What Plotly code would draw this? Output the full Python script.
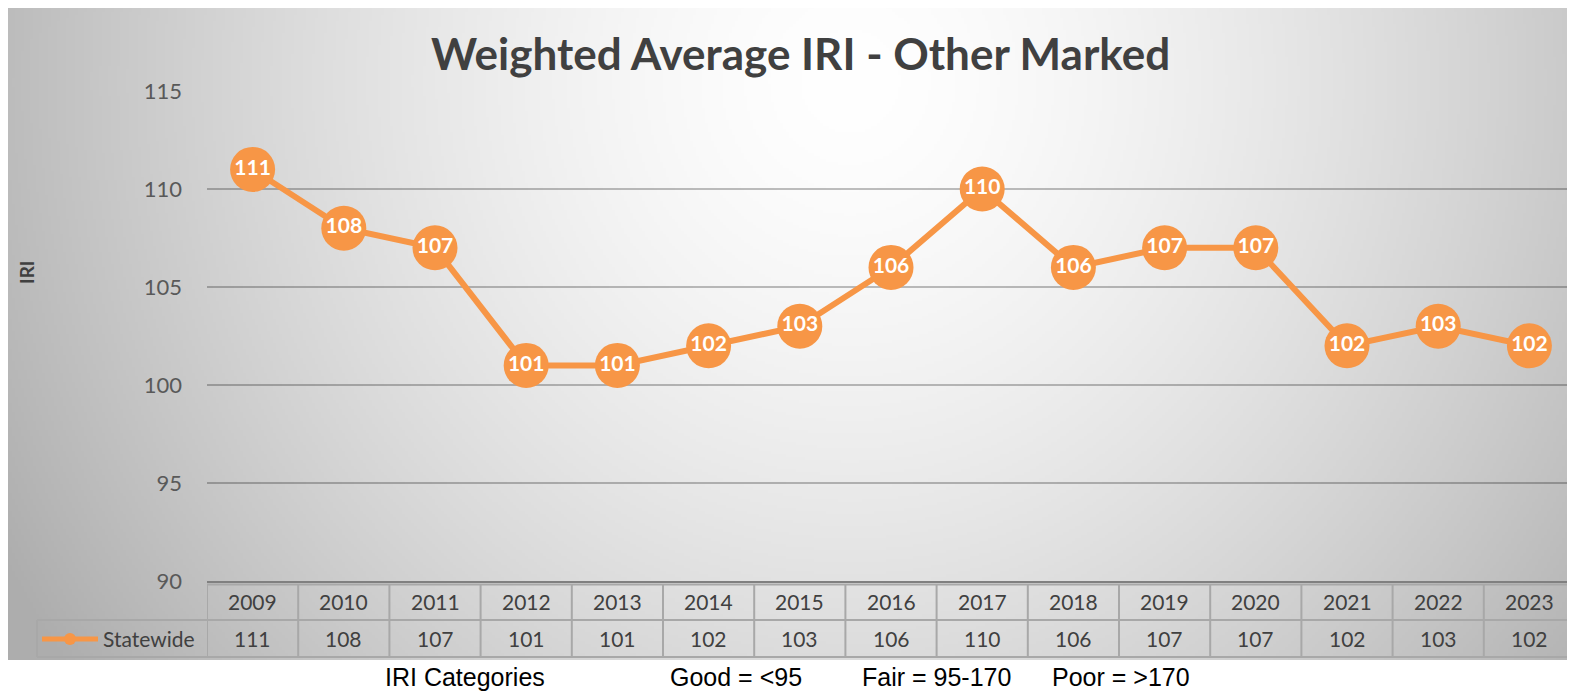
import base64, struct, zlib
import numpy as np
import plotly.graph_objects as go

# ---- data ----
years = ["2009", "2010", "2011", "2012", "2013", "2014", "2015", "2016",
         "2017", "2018", "2019", "2020", "2021", "2022", "2023"]
statewide = [111, 108, 107, 101, 101, 102, 103, 106, 110, 106, 107, 107, 102, 103, 102]
series_name = "Statewide"
title_text = "Weighted Average IRI - Other Marked"
y_title = "IRI"
y_ticks = [90, 95, 100, 105, 110, 115]
footer_items = ["IRI Categories", "Good = <95", "Fair = 95-170", "Poor = >170"]

OFF = 8  # page body margin
W, H = 1575 - OFF, 697 - OFF
# plot area in page pixels
L, R, T, B = 207, 1575, 91, 581
ORANGE = "#F79646"


def px(x):
    return (x - L) / (R - L)


def py(y):
    return (B - y) / (B - T)


# ---- background gradient image ----
def make_png(arr):
    h, w = arr.shape
    raw = b"".join(b"\x00" + arr[i].tobytes() for i in range(h))

    def chunk(t, d):
        return struct.pack(">I", len(d)) + t + d + struct.pack(">I", zlib.crc32(t + d) & 0xffffffff)

    return (b"\x89PNG\r\n\x1a\n"
            + chunk(b"IHDR", struct.pack(">IIBBBBB", w, h, 8, 0, 0, 0, 0))
            + chunk(b"IDAT", zlib.compress(raw, 9))
            + chunk(b"IEND", b""))


bx0, by0, bx1, by1 = 4, 4, 1575, 660
gw, gh = (bx1 - bx0) // 3, (by1 - by0) // 3
gx = np.linspace(bx0, bx1, gw)
gy = np.linspace(by0, by1, gh)
XX, YY = np.meshgrid(gx, gy)
d = np.sqrt(((XX - 850) / 840) ** 2 + ((YY - 80) / 880) ** 2)
d = np.clip(d, 0, 1.15)
val = 255 - 66 * d ** 1.5
img = np.clip(val, 0, 255).astype(np.uint8)
uri = "data:image/png;base64," + base64.b64encode(make_png(img)).decode()

fig = go.Figure()
fig.add_trace(go.Scatter(
    x=years, y=statewide, mode="lines+markers+text", name=series_name,
    line=dict(color=ORANGE, width=6),
    marker=dict(color=ORANGE, size=45, line=dict(width=0)),
    text=[str(v) for v in statewide], textposition="middle center",
    textfont=dict(family="Lato", size=21, color="white", weight="bold"),
    cliponaxis=False, showlegend=False,
))

shapes = []
ann = []
grid = "#a8a8a8"
# table horizontal lines
shapes.append(dict(type="line", xref="paper", yref="paper", x0=0, x1=1, y0=py(584.5), y1=py(584.5),
                   line=dict(color=grid, width=2)))
for yy in (620, 657):
    shapes.append(dict(type="line", xref="paper", yref="paper", x0=px(37), x1=1, y0=py(yy), y1=py(yy),
                       line=dict(color=grid, width=2)))
# vertical lines at category boundaries
for i in range(len(years) + 1):
    shapes.append(dict(type="line", xref="x", yref="paper", x0=i - 0.5, x1=i - 0.5,
                       y0=py(584.5), y1=py(657), line=dict(color=grid, width=2)))
shapes.append(dict(type="line", xref="paper", yref="paper", x0=px(37), x1=px(37),
                   y0=py(620), y1=py(657), line=dict(color=grid, width=2)))
# legend glyph
shapes.append(dict(type="line", xref="paper", yref="paper", x0=px(42), x1=px(98),
                   y0=py(639), y1=py(639), line=dict(color=ORANGE, width=5)))
shapes.append(dict(type="circle", xref="paper", yref="paper", x0=px(64), x1=px(76),
                   y0=py(645), y1=py(633), fillcolor=ORANGE, line=dict(width=0)))

tfont = dict(family="Lato", size=21, color="#404040")
for i, (yr, v) in enumerate(zip(years, statewide)):
    ann.append(dict(x=i, xref="x", y=py(601), yref="paper", text=yr, showarrow=False,
                    font=tfont, xanchor="center", yanchor="middle"))
    ann.append(dict(x=i, xref="x", y=py(638), yref="paper", text=str(v), showarrow=False,
                    font=tfont, xanchor="center", yanchor="middle"))
ann.append(dict(x=px(101), xref="paper", y=py(638), yref="paper", text=series_name, showarrow=False,
                font=tfont, xanchor="left", yanchor="middle"))
# title
ann.append(dict(x=px(800), xref="paper", y=py(53), yref="paper", text="<b>" + title_text + "</b>",
                showarrow=False, font=dict(family="Lato", size=44, color="#404040"),
                xanchor="center", yanchor="middle"))
# y title
ann.append(dict(x=px(26), xref="paper", y=py(272), yref="paper", text="<b>" + y_title + "</b>",
                showarrow=False, textangle=-90, font=dict(family="Lato", size=19, color="#404040"),
                xanchor="center", yanchor="middle"))
# footer
for xpos, t in zip([383, 668, 860, 1050], footer_items):
    ann.append(dict(x=px(xpos), xref="paper", y=py(677), yref="paper", text=t, showarrow=False,
                    font=dict(family="Liberation Sans Narrow, Arial Narrow, Liberation Sans", size=25,
                              color="#000000"),
                    xanchor="left", yanchor="middle"))

fig.update_layout(
    width=W, height=H,
    margin=dict(l=L - OFF, r=W - (R - OFF), t=T - OFF, b=H - (B - OFF), pad=0),
    paper_bgcolor="white", plot_bgcolor="rgba(0,0,0,0)",
    shapes=shapes, annotations=ann,
    images=[dict(source=uri, xref="paper", yref="paper", x=px(bx0), y=py(by0),
                 sizex=(bx1 - bx0) / (R - L), sizey=(by1 - by0) / (B - T),
                 xanchor="left", yanchor="top", sizing="stretch", layer="below")],
    xaxis=dict(type="category", range=[-0.5, len(years) - 0.5], showticklabels=False,
               showgrid=False, zeroline=False, showline=True, linecolor="#808080", linewidth=2,
               ticks=""),
    yaxis=dict(range=[90, 115], tickvals=y_ticks, showgrid=True, gridcolor="rgba(0,0,0,0.25)",
               gridwidth=2, zeroline=False, showline=False, ticks="", ticklabelstandoff=24,
               tickfont=dict(family="Lato", size=22, color="#595959")),
    showlegend=False,
)

fig.write_html("out.html")
